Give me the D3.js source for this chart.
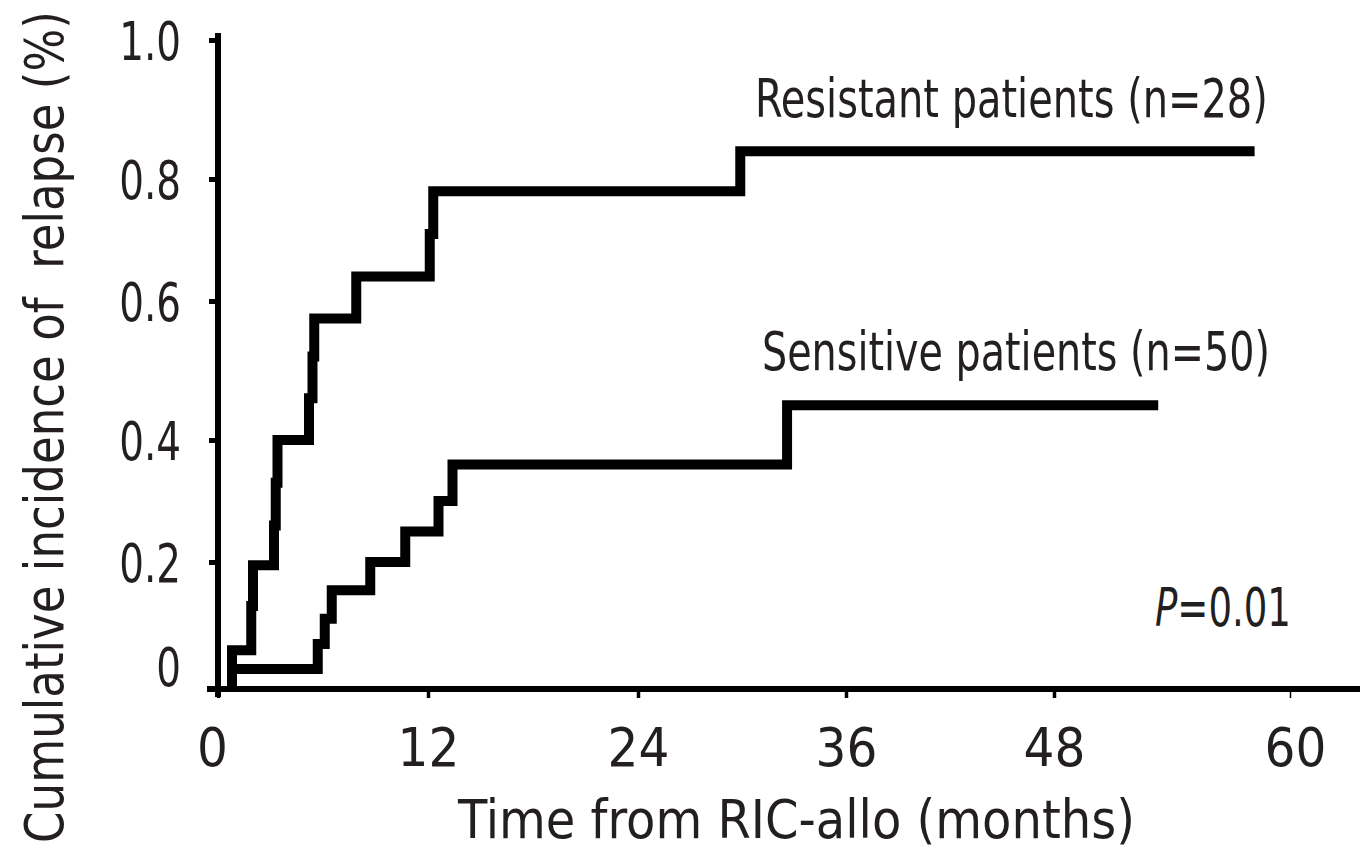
<!DOCTYPE html>
<html>
<head>
<meta charset="utf-8">
<script src="https://cdn.jsdelivr.net/npm/d3@7"></script>
<style>
  body { margin: 0; background: #fff; }
  text { font-family: "Liberation Sans Narrow", "DejaVu Sans Condensed", "Roboto", sans-serif; fill: #231f20; }
</style>
</head>
<body>
<div class="main"></div>
<script>
// Cumulative incidence of relapse (months, proportion)
const resistantTimes = [0.8, 1.9, 2.0, 3.2, 3.3, 3.4, 5.2, 5.4, 5.5, 7.9, 12.1, 12.3, 29.9]
const resistantValues = [0.06, 0.13, 0.195, 0.26, 0.33, 0.40, 0.46, 0.52, 0.575, 0.64, 0.71, 0.78, 0.84]
const resistantEnd = 58.2

const sensitiveTimes = [0.8, 5.7, 6.1, 6.5, 8.7, 10.7, 12.6, 13.4, 32.6]
const sensitiveValues = [0.03, 0.07, 0.11, 0.155, 0.20, 0.25, 0.30, 0.36, 0.45]
const sensitiveEnd = 53.3

const xTicks = [0, 12, 24, 36, 48, 60]
const yTicks = [0, 0.2, 0.4, 0.6, 0.8, 1.0]
const yTickLabels = ["0", "0.2", "0.4", "0.6", "0.8", "1.0"]

const width = 1360
const height = 851

// the printed axes are not evenly spaced, so the scales are piecewise
const xScale = d3.scaleLinear()
    .domain(xTicks)
    .range([218, 428, 638, 846, 1054, 1290])

const yScale = d3.scaleLinear()
    .domain(yTicks)
    .range([688, 562, 440, 301, 179, 40])

function stepPoints(times, values, end) {
    let pts = [{t: times[0], v: 0}]
    times.forEach((t, i) => pts.push({t: t, v: values[i]}))
    pts.push({t: end, v: values[values.length - 1]})
    return pts
}

// squeeze a text horizontally to a given width (the print face is condensed)
function fitText(sel, targetWidth, extra) {
    const w = sel.node().getComputedTextLength()
    const k = targetWidth / w
    const x = +sel.attr("x"), y = +sel.attr("y")
    sel.attr("x", 0).attr("y", 0)
        .attr("transform", `translate(${x},${y}) ${extra || ""} scale(${k},1)`)
}

const svg = d3.select('.main')
    .append("svg")
    .attr("width", width)
    .attr("height", height)
    .attr("viewBox", [0, 0, width, height])

svg.append("rect")
    .attr("width", width)
    .attr("height", height)
    .attr("fill", "white")

// y axis
const yAxis = svg.append("g")
    .attr("transform", `translate(${xScale(0)}, 0)`)
    .call(d3.axisLeft(yScale)
        .tickValues(yTicks)
        .tickSize(9)
        .tickPadding(28)
        .tickFormat((d, i) => yTickLabels[i]))

yAxis.select(".domain").remove()
yAxis.append("line")
    .attr("x1", 0).attr("x2", 0)
    .attr("y1", 33).attr("y2", 697)
    .attr("stroke", "black")
    .attr("stroke-width", 6)
yAxis.selectAll(".tick line")
    .attr("stroke", "black")
    .attr("stroke-width", 5)
yAxis.selectAll(".tick text")
    .attr("font-size", 54)
    .attr("fill", "#231f20")
    .attr("font-family", null)
    .attr("x", -37 / 0.8)
    .attr("transform", "scale(0.8,1)")
    .attr("dy", (d) => d == 0 ? "-0.05em" : "0.36em")

// x axis
const xAxis = svg.append("g")
    .attr("transform", `translate(0, ${yScale(0) + 1})`)
    .call(d3.axisBottom(xScale)
        .tickValues(xTicks)
        .tickSize(9)
        .tickPadding(30))

xAxis.select(".domain").remove()
xAxis.append("line")
    .attr("x1", 207).attr("x2", width)
    .attr("y1", 0).attr("y2", 0)
    .attr("stroke", "black")
    .attr("stroke-width", 6)
xAxis.selectAll(".tick line")
    .attr("stroke", "black")
    .attr("stroke-width", (d) => d == 60 ? 1.5 : 3.5)
xAxis.selectAll(".tick text")
    .attr("font-size", 54)
    .attr("fill", "#231f20")
    .attr("font-family", null)
    .attr("dx", (d) => d == 0 ? -6 : (d == 60 ? 5 : 0))

// curves
const line = d3.line()
    .x((d) => xScale(d.t))
    .y((d) => yScale(d.v))
    .curve(d3.curveStepAfter)

const series = [
    {name: "Resistant", pts: stepPoints(resistantTimes, resistantValues, resistantEnd)},
    {name: "Sensitive", pts: stepPoints(sensitiveTimes, sensitiveValues, sensitiveEnd)}
]

svg.append("g")
    .selectAll("path")
    .data(series)
    .join("path")
        .attr("d", (d) => line(d.pts))
        .attr("fill", "none")
        .attr("stroke", "black")
        .attr("stroke-width", 10)
        .attr("stroke-linejoin", "miter")

// labels
const resLabel = svg.append("text")
    .text("Resistant patients (n=28)")
    .attr("x", 755)
    .attr("y", 117)
    .attr("font-size", 54)
fitText(resLabel, 513)

const sensLabel = svg.append("text")
    .text("Sensitive patients (n=50)")
    .attr("x", 762)
    .attr("y", 370)
    .attr("font-size", 54)
fitText(sensLabel, 508)

const pText = svg.append("text")
    .attr("x", 1155)
    .attr("y", 626)
    .attr("font-size", 54)
pText.append("tspan").text("P").attr("font-style", "italic")
pText.append("tspan").text("=0.01")
fitText(pText, 136)

const xTitle = svg.append("text")
    .text("Time from RIC-allo (months)")
    .attr("x", 458)
    .attr("y", 838)
    .attr("font-size", 54)
fitText(xTitle, 677)

const yTitle = svg.append("text")
    .text("Cumulative incidence of  relapse (%)")
    .attr("x", 63)
    .attr("y", 427)
    .attr("text-anchor", "middle")
    .attr("font-size", 54)
    .style("white-space", "pre")
fitText(yTitle, 832, "rotate(-90)")
</script>
</body>
</html>
